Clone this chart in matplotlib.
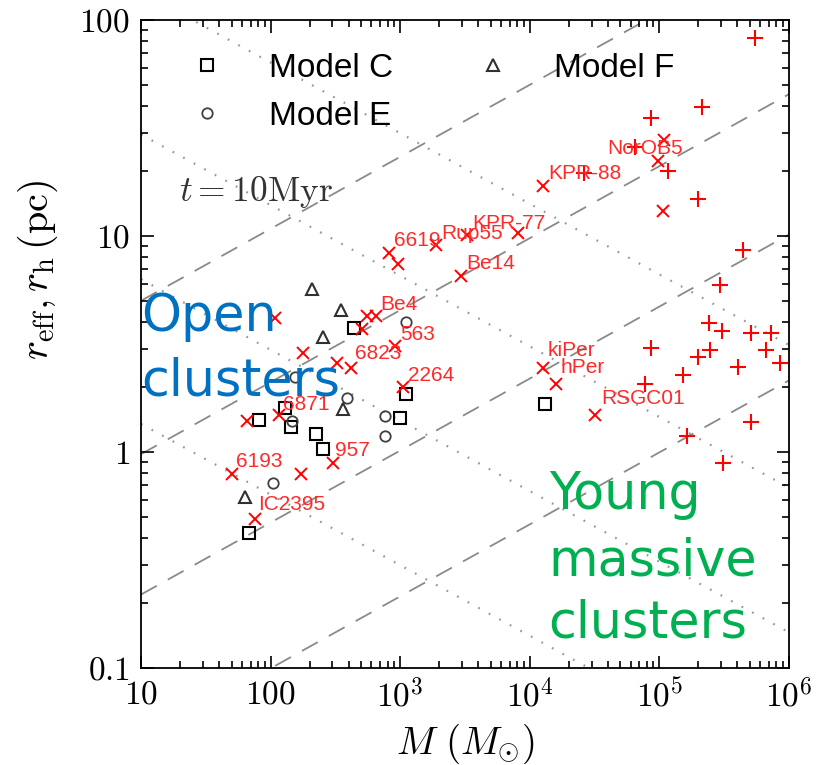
import numpy as np
import matplotlib
matplotlib.use("Agg")
import matplotlib.pyplot as plt
from matplotlib.ticker import FixedLocator, FixedFormatter, LogLocator, NullFormatter

plt.rcParams['mathtext.fontset'] = 'cm'
plt.rcParams['font.family'] = ['Liberation Sans', 'DejaVu Sans']

# N-body models at t = 10 Myr: mass (Msun), half-mass radius (pc)
model_c_m = [68, 82, 130, 143, 225, 252, 443, 998, 1115, 13100]
model_c_r = [0.42, 1.41, 1.59, 1.31, 1.21, 1.03, 3.77, 1.43, 1.86, 1.66]
model_e_m = [104, 145, 155, 392, 759, 759, 1115]
model_e_r = [0.72, 1.39, 2.23, 1.78, 1.46, 1.18, 3.99]
model_f_m = [64, 210, 351, 252, 364]
model_f_r = [0.62, 5.68, 4.55, 3.42, 1.58]

# observed clusters (x markers) with names
obs_m = [108, 178, 66, 116, 50.6, 171, 303, 76, 326, 415, 557, 655, 507, 906, 1057,
         817, 961, 1905, 2965, 3270, 8130, 12740, 109400, 97900, 107000, 12650, 15900, 32000]
obs_r = [4.17, 2.87, 1.39, 1.48, 0.79, 0.79, 0.89, 0.49, 2.59, 2.45, 4.25, 4.25, 3.70, 3.10, 1.99,
         8.38, 7.43, 9.04, 6.55, 10.1, 10.35, 17.1, 27.9, 22.3, 13.0, 2.45, 2.06, 1.48]
obs_name = ['', '', '', '6871', '6193', '', '957', 'IC2395', '', '6823', '', 'Be4', '', '563', '2264',
            '6619', '', 'Rup55', 'Be14', 'KPR-77', '', 'KPR-88', '', 'NorOB5', '', 'kiPer', 'hPer', 'RSGC01']

# young massive clusters (+ markers)
ymc_m = [544e3, 215e3, 86.5e3, 65.3e3, 26.4e3, 116e3, 200e3, 444e3, 291e3, 242e3, 302e3, 506e3,
         731e3, 86.5e3, 246e3, 197e3, 665e3, 847e3, 403e3, 152e3, 77.4e3, 506e3, 162e3, 307e3]
ymc_r = [82.4, 39.7, 35.3, 25.8, 19.6, 20.0, 14.9, 8.65, 5.94, 3.94, 3.65, 3.54,
         3.54, 3.03, 2.97, 2.74, 2.97, 2.59, 2.48, 2.28, 2.06, 1.38, 1.19, 0.89]

# guide lines: log10(r) at M = 10 Msun
dens_logr10 = [0.70, -0.01, -0.66, -1.335]   # constant density, r ~ M^(1/3)
trh_logr10 = [2.13, 1.47, 0.80, 0.13]        # constant relaxation time
trh_slope = -0.327

xticks = [10, 100, 1e3, 1e4, 1e5, 1e6]
xticklabels = ['$10$', '$100$', '$10^{3}$', '$10^{4}$', '$10^{5}$', '$10^{6}$']
yticks = [0.1, 1, 10, 100]
yticklabels = ['$0.1$', '$1$', '$10$', '$100$']

label_off = {'6871': (4, 11), '6193': (4, 13), '957': (2, 12), 'IC2395': (3, 14), '6823': (4, 14),
             'Be4': (4, 12), '563': (6, 11), '2264': (5, 12), '6619': (5, 12), 'Rup55': (5, 12),
             'Be14': (5, 12), 'KPR-77': (5, 12), 'KPR-88': (5, 12), 'NorOB5': (-51, 12),
             'kiPer': (5, 17), 'hPer': (5, 17), 'RSGC01': (6, 17)}

fig = plt.figure(figsize=(8.29, 7.65), dpi=100)
ax = fig.add_axes([141/829, 97/765, 648/829, 648/765])
ax.set_xscale('log')
ax.set_yscale('log')

mm = np.logspace(1, 6, 200)
lm = np.log10(mm) - 1
for a in dens_logr10:
    ax.plot(mm, 10**(a + lm/3), color='#8a8a8a', lw=1.3, dashes=(10, 7), zorder=1)
for a in trh_logr10:
    ax.plot(mm, 10**(a + trh_slope*lm), color='#999999', lw=1.6, linestyle=(0, (0.8, 4.6)), zorder=1)

ax.plot(model_c_m, model_c_r, 's', ms=8.5, mfc='none', mec='black', mew=1.5, label='Model C', zorder=3)
ax.plot(model_e_m, model_e_r, 'o', ms=7.5, mfc='none', mec='#404040', mew=1.3, label='Model E', zorder=3)
ax.plot(model_f_m, model_f_r, '^', ms=8, mfc='none', mec='#303030', mew=1.5, label='Model F', zorder=3)
ax.plot(obs_m, obs_r, 'x', ms=8.5, mec='red', mew=1.4, zorder=3)
ax.plot(ymc_m, ymc_r, '+', ms=11.5, mec='red', mew=1.5, zorder=3)

for m, r, name in zip(obs_m, obs_r, obs_name):
    if name:
        dx, dy = label_off[name]
        ax.annotate(name, (m, r), xytext=(dx, dy), textcoords='offset pixels',
                    ha='left', va='center', fontsize=15, color='#ff2a2a', zorder=4)

ax.set_xlim(10, 1e6)
ax.set_ylim(0.1, 100)
ax.xaxis.set_major_locator(FixedLocator(xticks))
ax.xaxis.set_major_formatter(FixedFormatter(xticklabels))
ax.yaxis.set_major_locator(FixedLocator(yticks))
ax.yaxis.set_major_formatter(FixedFormatter(yticklabels))
ax.xaxis.set_minor_locator(LogLocator(base=10, subs=np.arange(2, 10), numticks=20))
ax.yaxis.set_minor_locator(LogLocator(base=10, subs=np.arange(2, 10), numticks=20))
ax.xaxis.set_minor_formatter(NullFormatter())
ax.yaxis.set_minor_formatter(NullFormatter())
ax.tick_params(which='both', direction='in', top=True, right=True, labelsize=24, width=1.2)
ax.tick_params(which='major', length=9, pad=8)
ax.tick_params(which='minor', length=5)
for s in ax.spines.values():
    s.set_linewidth(1.3)

ax.set_xlabel(r'$M\ (M_{\odot})$', fontsize=28, labelpad=6)
ax.set_ylabel(r'$r_{\rm eff}, r_{\rm h}\,({\rm pc})$', fontsize=29)
ax.yaxis.set_label_coords(-0.125, 0.614)

ax.legend(loc='upper left', bbox_to_anchor=(0.076, 0.949), ncol=2, frameon=False,
          prop={'family': 'Liberation Sans', 'size': 24}, handlelength=1.0, handletextpad=1.35,
          columnspacing=2.5, labelspacing=0.5, borderpad=0, borderaxespad=0)

ax.text(0.058, 0.735, r'$t = 10{\rm Myr}$', transform=ax.transAxes, fontsize=25.5,
        color='#333333', va='center', ha='left')

big = {'family': 'DejaVu Sans', 'size': 36.5}
ax.text(0.0, 0.520, 'Open', transform=ax.transAxes, color='#0070C0', va='baseline', zorder=5, **big)
ax.text(0.0, 0.421, 'clusters', transform=ax.transAxes, color='#0070C0', va='baseline', zorder=5, **big)
ax.text(0.629, 0.245, 'Young', transform=ax.transAxes, color='#00B050', va='baseline', zorder=5, **big)
ax.text(0.629, 0.143, 'massive', transform=ax.transAxes, color='#00B050', va='baseline', zorder=5, **big)
ax.text(0.629, 0.047, 'clusters', transform=ax.transAxes, color='#00B050', va='baseline', zorder=5, **big)

fig.savefig('out.png', dpi=100)
